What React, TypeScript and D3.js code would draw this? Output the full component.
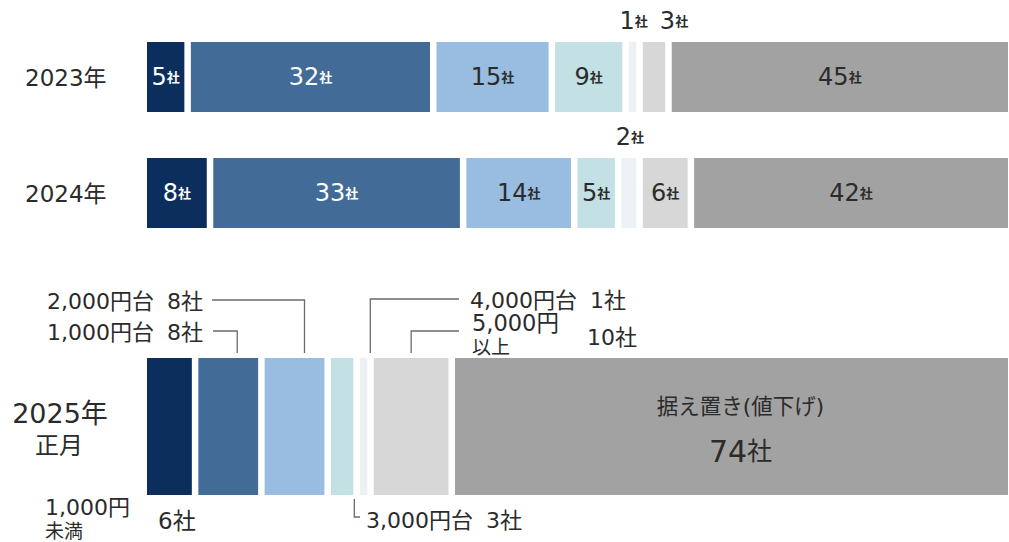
import * as d3 from 'd3';

// price bands (same order in every row)
const categories = ['1,000円未満', '1,000円台', '2,000円台', '3,000円台', '4,000円台', '5,000円以上', '据え置き(値下げ)'];
const colors = ['#0c2e5c', '#426b98', '#98bde1', '#c3e0e4', '#eef1f4', '#d7d7d7', '#a2a2a2'];

const years = ['2023年', '2024年', '2025年'];
const values2023 = [5, 32, 15, 9, 1, 3, 45];
const values2024 = [8, 33, 14, 5, 2, 6, 42];
const values2025 = [6, 8, 8, 3, 1, 10, 74];

const W = 1009;
const H = 542;
const left = 147;
const gap = 6.5;
const font = '"DejaVu Sans", "Noto Sans CJK JP", sans-serif';
const ink = '#2b2b2b';

const x = d3.scaleLinear().domain([0, 110]).range([0, 822]);

function segments(values: number[]) {
  let acc = 0;
  return values.map((v, i) => {
    const x0 = left + x(acc) + i * gap;
    acc += v;
    const w = x(v);
    return { v, i, x0, w, cx: x0 + w / 2, x1: x0 + w };
  });
}

function BarLabel({ cx, cy, v, color }: { cx: number; cy: number; v: number; color: string }) {
  return (
    <text x={cx} y={cy} textAnchor="middle" dominantBaseline="central" fill={color} fontFamily={font}>
      <tspan fontSize={24}>{v}</tspan>
      <tspan fontSize={13} fontWeight={700}>社</tspan>
    </text>
  );
}

// "x,000円台   n社" style annotation with a wider gap before the count
function Ann({ x, y, label, v, anchor = 'start' }: { x: number; y: number; label: string; v: number; anchor?: string }) {
  return (
    <text x={x} y={y} textAnchor={anchor} dominantBaseline="central" fontSize={22} fontFamily={font} fill={ink}>
      <tspan>{label}</tspan>
      <tspan dx={13}>{v}社</tspan>
    </text>
  );
}

function SmallRow({ label, values, top, outside }: { label: string; values: number[]; top: number; outside: { i: number; dx: number }[] }) {
  const h = 70;
  const segs = segments(values);
  const outIdx = outside.map(o => o.i);
  return (
    <g>
      <text x={25} y={top + h / 2 + 1} dominantBaseline="central" fontSize={23} fill={ink} fontFamily={font}>
        {label}
      </text>
      {segs.map(s => (
        <rect key={s.i} x={s.x0} y={top} width={s.w} height={h} fill={colors[s.i]} />
      ))}
      {segs
        .filter(s => !outIdx.includes(s.i))
        .map(s => (
          <BarLabel key={s.i} cx={s.cx} cy={top + h / 2} v={s.v} color={s.i < 2 ? '#ffffff' : ink} />
        ))}
      {outside.map(o => (
        <BarLabel key={'o' + o.i} cx={segs[o.i].cx + o.dx} cy={top - 21} v={values[o.i]} color={ink} />
      ))}
    </g>
  );
}

export default function App() {
  const top25 = 358;
  const h25 = 137;
  const s25 = segments(values2025);
  const lineTop = top25 - 5;
  const lc = '#6b6b6b';
  const ann = { fontFamily: font, fill: ink } as const;

  const p1000 = s25[1].cx + 9;
  const p2000 = s25[2].cx + 10;
  const p3000 = s25[3].x1 + 1;
  const p4000 = s25[4].x1 + 3;
  const p5000 = s25[5].cx;

  return (
    <svg width={W} height={H} style={{ position: 'absolute', left: 0, top: 0, background: '#fff' }}>
      <SmallRow label={years[0]} values={values2023} top={42} outside={[{ i: 4, dx: 1 }, { i: 5, dx: 20 }]} />
      <SmallRow label={years[1]} values={values2024} top={158} outside={[{ i: 4, dx: 1 }]} />

      {/* 2025 row */}
      <text x={60} y={413} textAnchor="middle" dominantBaseline="central" fontSize={27} {...ann}>
        {years[2]}
      </text>
      <text x={59} y={446} textAnchor="middle" dominantBaseline="central" fontSize={24} {...ann}>
        正月
      </text>
      {s25.map(s => (
        <rect key={s.i} x={s.x0} y={top25} width={s.w} height={h25} fill={colors[s.i]} />
      ))}

      <text x={s25[6].cx + 9} y={406} textAnchor="middle" dominantBaseline="central" fontSize={21.5} {...ann}>
        {categories[6]}
      </text>
      <text x={s25[6].cx + 9} y={451} textAnchor="middle" dominantBaseline="central" {...ann}>
        <tspan fontSize={30}>{values2025[6]}</tspan>
        <tspan fontSize={25}>社</tspan>
      </text>

      {/* below left */}
      <text x={45} y={507} dominantBaseline="central" fontSize={22} {...ann}>
        {categories[0].slice(0, 6)}
      </text>
      <text x={45} y={531} dominantBaseline="central" fontSize={19} {...ann}>
        {categories[0].slice(6)}
      </text>
      <text x={s25[0].x0 + 11} y={521} dominantBaseline="central" fontSize={23} {...ann}>
        {values2025[0]}社
      </text>

      {/* leaders left */}
      <Ann x={203} y={301} label={categories[2]} v={values2025[2]} anchor="end" />
      <path d={`M212,300H${p2000}V${lineTop}`} fill="none" stroke={lc} strokeWidth={1.3} />
      <Ann x={203} y={332} label={categories[1]} v={values2025[1]} anchor="end" />
      <path d={`M213,331H${p1000}V${lineTop}`} fill="none" stroke={lc} strokeWidth={1.3} />

      {/* leaders right */}
      <path d={`M459,299H${p4000}V${lineTop}`} fill="none" stroke={lc} strokeWidth={1.3} />
      <Ann x={470} y={300} label={categories[4]} v={values2025[4]} />
      <path d={`M459,331H${p5000}V${lineTop}`} fill="none" stroke={lc} strokeWidth={1.3} />
      <text x={472} y={323} dominantBaseline="central" fontSize={22.5} {...ann}>
        {categories[5].slice(0, 6)}
      </text>
      <text x={472} y={347} dominantBaseline="central" fontSize={19} {...ann}>
        {categories[5].slice(6)}
      </text>
      <text x={587} y={337} dominantBaseline="central" fontSize={22} {...ann}>
        {values2025[5]}社
      </text>

      {/* leader below */}
      <path d={`M${p3000},${top25 + h25 + 4}V517H360`} fill="none" stroke={lc} strokeWidth={1.3} />
      <Ann x={366} y={520} label={categories[3]} v={values2025[3]} />
    </svg>
  );
}
